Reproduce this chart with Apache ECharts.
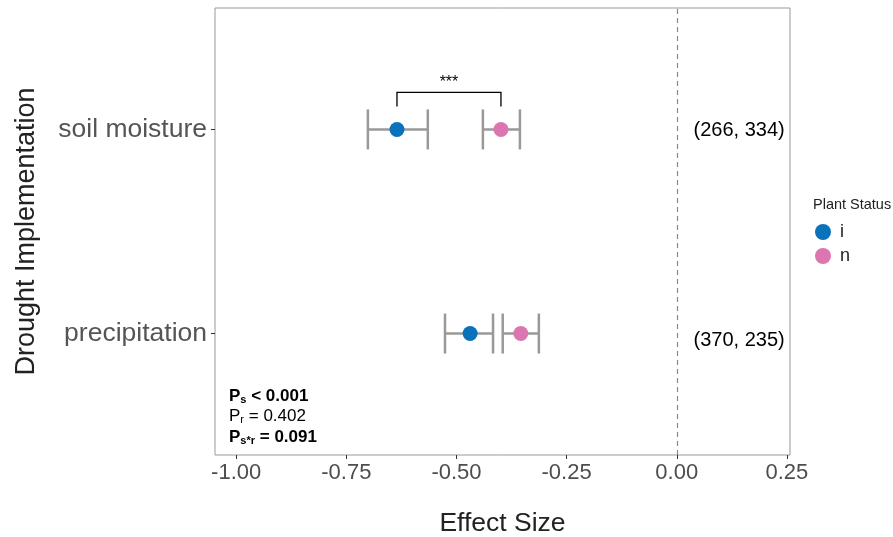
<!DOCTYPE html>
<html>
<head>
<meta charset="utf-8">
<script src="https://cdn.jsdelivr.net/npm/echarts@6/dist/echarts.min.js"></script>
<style>
  html, body { margin: 0; padding: 0; background: #fff; }
  #chart { width: 893px; height: 537px; }
</style>
</head>
<body>
<div id="chart"></div>
<script>
// y positions: 1 = precipitation, 2 = soil moisture
const categories = ["precipitation", "soil moisture"]
const iMean = [-0.469, -0.635]
const iLow = [-0.526, -0.701]
const iHigh = [-0.417, -0.565]
const nMean = [-0.354, -0.399]
const nLow = [-0.395, -0.440]
const nHigh = [-0.313, -0.356]
const counts = ["(370, 235)", "(266, 334)"]
const xTicks = [-1, -0.75, -0.5, -0.25, 0, 0.25]
const blue = "#0a72ba"
const pink = "#db76b0"

const myChart = echarts.init(document.getElementById("chart"))

function barData(low, high) {
  return low.map((v, k) => [v, high[k], k + 1])
}

function renderBar(params, api) {
  let a = api.coord([api.value(0), api.value(2)])
  let b = api.coord([api.value(1), api.value(2)])
  let h = 20
  let style = { stroke: "#999", lineWidth: 2.5 }
  return {
    type: "group",
    children: [
      { type: "line", shape: { x1: a[0], y1: a[1], x2: b[0], y2: b[1] }, style: style },
      { type: "line", shape: { x1: a[0], y1: a[1] - h, x2: a[0], y2: a[1] + h }, style: style },
      { type: "line", shape: { x1: b[0], y1: b[1] - h, x2: b[0], y2: b[1] + h }, style: style }
    ]
  }
}

myChart.setOption({
  animation: false,
  grid: {
    left: 215, right: 103, top: 8, bottom: 82,
    outerBoundsMode: "none",
    show: true, borderColor: "#999", borderWidth: 1
  },
  xAxis: {
    type: "value",
    min: -1.048, max: 0.257,
    name: "Effect Size",
    nameLocation: "middle",
    nameGap: 55,
    nameTextStyle: { fontSize: 26.5, color: "#222", fontFamily: "Liberation Sans" },
    axisLine: { show: false, onZero: false },
    splitLine: { show: false },
    axisTick: { show: true, length: 4, lineStyle: { color: "#333" }, customValues: xTicks },
    axisLabel: {
      customValues: xTicks,
      formatter: v => v.toFixed(2),
      fontSize: 22, color: "#4d4d4d", margin: 7, fontFamily: "Liberation Sans"
    }
  },
  yAxis: {
    type: "value",
    min: 0.405, max: 2.595,
    name: "Drought Implementation",
    nameLocation: "middle",
    nameGap: 175,
    nameRotate: 90,
    nameTextStyle: { fontSize: 27, color: "#222", fontFamily: "Liberation Sans" },
    axisLine: { show: false, onZero: false },
    splitLine: { show: false },
    axisTick: { show: true, length: 4, lineStyle: { color: "#333" }, customValues: [1, 2] },
    axisLabel: {
      customValues: [1, 2],
      formatter: v => categories[Math.round(v) - 1],
      fontSize: 26.5, color: "#555", margin: 8, fontFamily: "Liberation Sans"
    }
  },
  legend: {
    orient: "vertical",
    left: 815, top: 223, padding: 0,
    itemWidth: 16, itemHeight: 16, itemGap: 6,
    icon: "circle",
    data: ["i", "n"],
    textStyle: { fontSize: 18, color: "#222", fontFamily: "Liberation Sans", padding: [0, 0, 0, 4] }
  },
  graphic: [
    {
      type: "text", left: 813, top: 197,
      style: { text: "Plant Status", fontSize: 14.5, fill: "#222", fontFamily: "Liberation Sans" }
    },
    {
      type: "text", left: 229, top: 387,
      style: {
        text: "{b|P}{bs|s}{b| < 0.001}\n{n|P}{ns|r}{n| = 0.402}\n{b|P}{bs|s*r}{b| = 0.091}",
        fontFamily: "Liberation Sans",
        rich: {
          b: { fontSize: 17, fontWeight: "bold", fill: "#000", lineHeight: 20.5 },
          bs: { fontSize: 11, fontWeight: "bold", fill: "#000", lineHeight: 20.5, padding: [7, 0, 0, 0] },
          n: { fontSize: 17, fill: "#000", lineHeight: 20.5 },
          ns: { fontSize: 11, fill: "#000", lineHeight: 20.5, padding: [7, 0, 0, 0] }
        }
      }
    }
  ],
  series: [
    {
      name: "zero",
      type: "line",
      data: [],
      markLine: {
        silent: true, symbol: "none",
        lineStyle: { color: "#888", type: [5, 4], width: 1.2 },
        label: { show: false },
        data: [{ xAxis: 0 }]
      }
    },
    {
      name: "iBar", type: "custom", renderItem: renderBar,
      data: barData(iLow, iHigh), z: 2
    },
    {
      name: "nBar", type: "custom", renderItem: renderBar,
      data: barData(nLow, nHigh), z: 2
    },
    {
      name: "i", type: "scatter", symbolSize: 15, z: 5,
      itemStyle: { color: blue, opacity: 1 },
      data: iMean.map((v, k) => [v, k + 1])
    },
    {
      name: "n", type: "scatter", symbolSize: 15, z: 5,
      itemStyle: { color: pink, opacity: 1 },
      data: nMean.map((v, k) => [v, k + 1])
    },
    {
      // significance bracket between i and n for soil moisture
      name: "bracket", type: "custom",
      data: [[iMean[1], nMean[1], 2]],
      renderItem: function (params, api) {
        let a = api.coord([api.value(0), api.value(2)])
        let b = api.coord([api.value(1), api.value(2)])
        let top = a[1] - 37
        let bot = a[1] - 23
        return {
          type: "group",
          children: [
            {
              type: "polyline",
              shape: { points: [[a[0], bot], [a[0], top], [b[0], top], [b[0], bot]] },
              style: { stroke: "#000", lineWidth: 1.3, fill: null }
            },
            {
              type: "text",
              style: {
                text: "***", x: (a[0] + b[0]) / 2, y: top - 2,
                align: "center", verticalAlign: "bottom",
                fontSize: 16, fill: "#000", fontFamily: "Liberation Sans"
              }
            }
          ]
        }
      }
    },
    {
      name: "counts", type: "custom",
      data: counts.map((c, k) => [0.245, k + 1]),
      renderItem: function (params, api) {
        let p = api.coord([api.value(0), api.value(1)])
        return {
          type: "text",
          style: {
            text: counts[params.dataIndex], x: p[0], y: p[1] + (params.dataIndex === 0 ? 7 : 1),
            align: "right", verticalAlign: "middle",
            fontSize: 20, fill: "#000", fontFamily: "Liberation Sans"
          }
        }
      }
    }
  ]
})
</script>
</body>
</html>
